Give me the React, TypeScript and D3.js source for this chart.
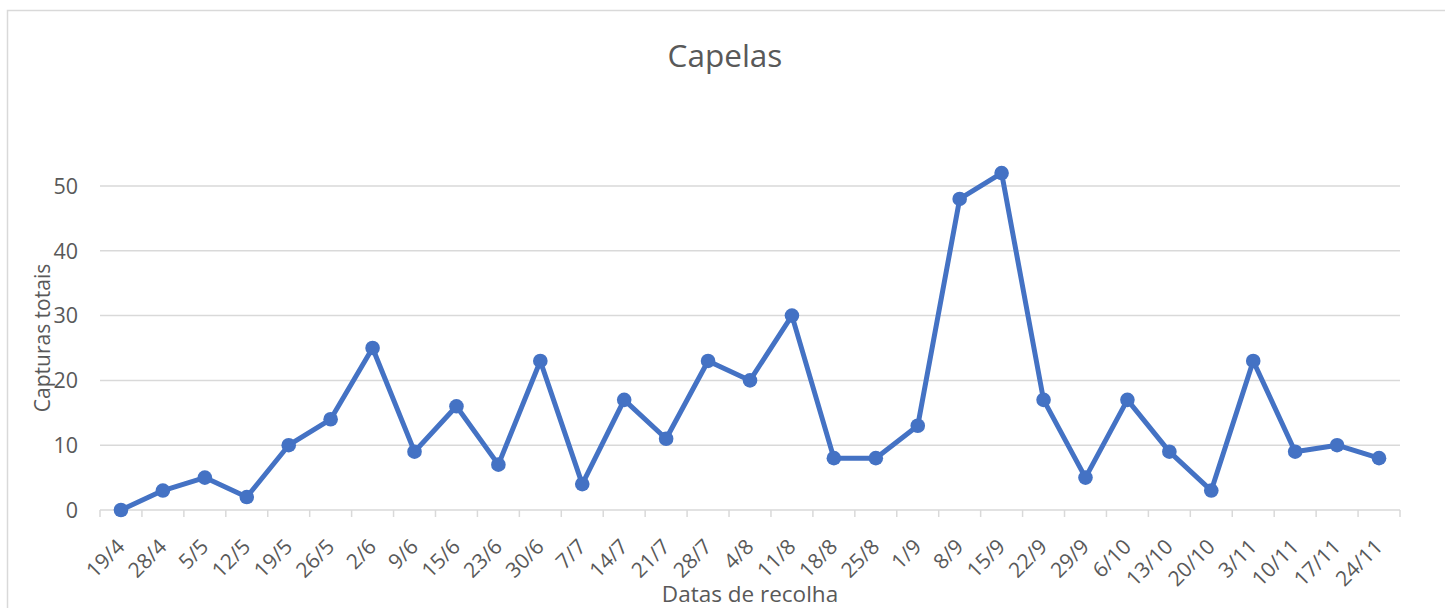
import React, {useEffect, useRef} from 'react'
import * as d3 from 'd3'

const dates = ['19/4','28/4','5/5','12/5','19/5','26/5','2/6','9/6','15/6','23/6','30/6','7/7','14/7','21/7','28/7','4/8','11/8','18/8','25/8','1/9','8/9','15/9','22/9','29/9','6/10','13/10','20/10','3/11','10/11','17/11','24/11']
const captures = [0,3,5,2,10,14,25,9,16,7,23,4,17,11,23,20,30,8,8,13,48,52,17,5,17,9,3,23,9,10,8]
const yTicks = [0,10,20,30,40,50]

const W = 1445, H = 608
const margin = {top: 186, right: 45, bottom: 98, left: 100}
const font = '"Open Sans", Calibri, sans-serif'
const txt = '#595959'
const grid = '#d9d9d9'
const blue = '#4472C4'

export default function App() {
  const ref = useRef<SVGSVGElement | null>(null)

  useEffect(() => {
    const svg = d3.select(ref.current)
    svg.selectAll('*').remove()

    const width = W - margin.left - margin.right
    const height = H - margin.top - margin.bottom

    // chart area frame, cut off by the picture on the right and bottom
    svg.append('rect')
      .attr('x', 7.5).attr('y', 10.5)
      .attr('width', W + 20).attr('height', H + 20)
      .attr('fill', '#fff').attr('stroke', grid).attr('stroke-width', 1.5)

    const x = d3.scaleBand().domain(dates).range([0, width])
    const y = d3.scaleLinear().domain([0, 50]).range([height, 0])

    const g = svg.append('g').attr('transform', `translate(${margin.left},${margin.top})`)

    g.selectAll('line.grid')
      .data(yTicks.filter(t => t > 0))
      .join('line')
      .attr('class', 'grid')
      .attr('x1', 0).attr('x2', width)
      .attr('y1', d => y(d)).attr('y2', d => y(d))
      .attr('stroke', grid).attr('stroke-width', 1.5)

    g.selectAll('text.ytick')
      .data(yTicks)
      .join('text')
      .attr('class', 'ytick')
      .attr('x', -22).attr('y', d => y(d))
      .attr('dy', '0.36em')
      .attr('text-anchor', 'end')
      .attr('font-family', font).attr('font-size', 21.5).attr('fill', txt)
      .text(d => d)

    // x axis line and tick marks at band edges
    g.append('line')
      .attr('x1', 0).attr('x2', width)
      .attr('y1', height).attr('y2', height)
      .attr('stroke', grid).attr('stroke-width', 1.5)

    const edges = dates.map(d => x(d) as number).concat(width)
    g.selectAll('line.xtick')
      .data(edges)
      .join('line')
      .attr('class', 'xtick')
      .attr('x1', d => d).attr('x2', d => d)
      .attr('y1', height).attr('y2', height + 7)
      .attr('stroke', grid).attr('stroke-width', 1.5)

    const cx = (d: string) => (x(d) as number) + x.bandwidth() / 2

    g.selectAll('text.xlab')
      .data(dates)
      .join('text')
      .attr('class', 'xlab')
      .attr('transform', d => `translate(${cx(d) + 5},${height + 38}) rotate(-45)`)
      .attr('text-anchor', 'end')
      .attr('font-family', font).attr('font-size', 21).attr('fill', txt)
      .text(d => d)

    const line = d3.line<number>()
      .x((d, i) => cx(dates[i]))
      .y(d => y(d))

    g.append('path')
      .datum(captures)
      .attr('d', line)
      .attr('fill', 'none')
      .attr('stroke', blue).attr('stroke-width', 5)
      .attr('stroke-linejoin', 'round')

    g.selectAll('circle')
      .data(captures)
      .join('circle')
      .attr('cx', (d, i) => cx(dates[i]))
      .attr('cy', d => y(d))
      .attr('r', 7.3)
      .attr('fill', blue)

    svg.append('text')
      .attr('x', 725).attr('y', 67)
      .attr('text-anchor', 'middle')
      .attr('font-family', font).attr('font-size', 31.5).attr('fill', txt)
      .text('Capelas')

    svg.append('text')
      .attr('transform', `translate(50,338) rotate(-90)`)
      .attr('text-anchor', 'middle')
      .attr('font-family', font).attr('font-size', 21).attr('fill', txt)
      .text('Capturas totais')

    svg.append('text')
      .attr('x', margin.left + width / 2).attr('y', 602)
      .attr('text-anchor', 'middle')
      .attr('font-family', font).attr('font-size', 22.5).attr('fill', txt)
      .text('Datas de recolha')
  }, [])

  return (
    <svg ref={ref} width={W} height={H}
      style={{position: 'absolute', left: 0, top: 0, display: 'block'}} />
  )
}
